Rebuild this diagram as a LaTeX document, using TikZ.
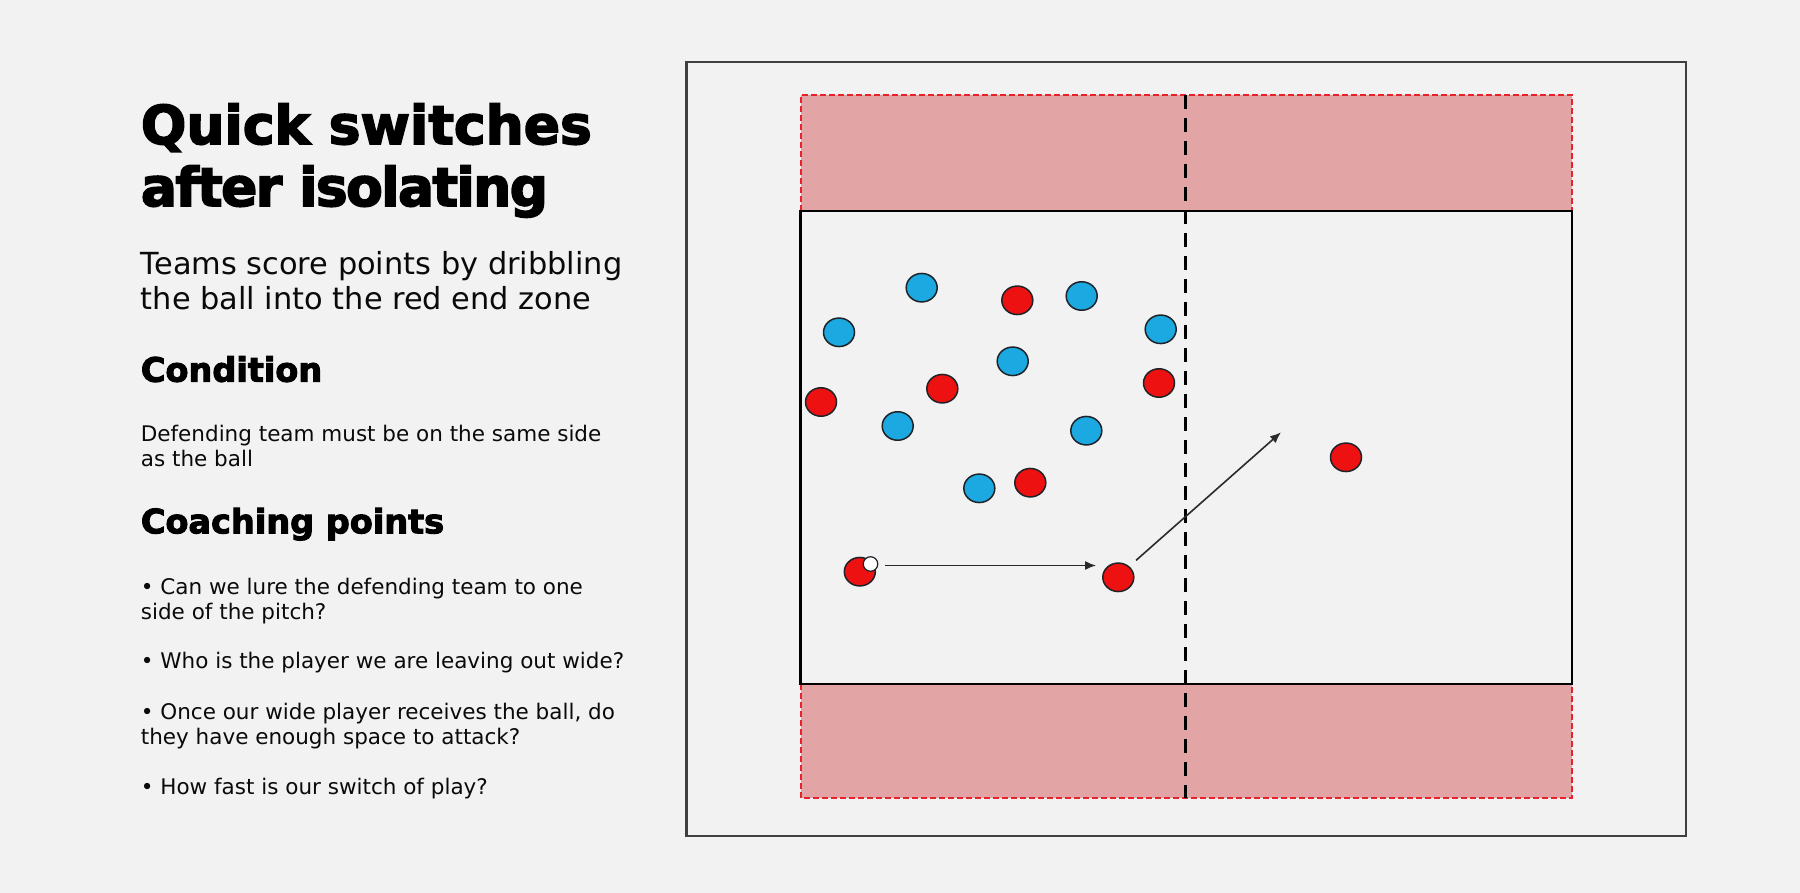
\documentclass[tikz,border=0pt]{standalone}
\usepackage{fontspec}
\setmainfont{DejaVu Sans}
\newfontfamily\headfont{DejaVu Sans}[UprightFont={* Bold}, UprightFeatures={FakeBold=3}]
\newfontfamily\headtight{DejaVu Sans}[UprightFont={* Bold}, UprightFeatures={FakeBold=3}, LetterSpace=-3]
\usetikzlibrary{shapes.geometric,arrows.meta}
\definecolor{bgcol}{HTML}{F2F2F2}
\definecolor{zonefill}{HTML}{E2A4A4}
\definecolor{zonered}{HTML}{E8222A}
\definecolor{pblue}{HTML}{1CA8E0}
\definecolor{pred}{HTML}{EE1111}
\definecolor{outl}{HTML}{1E2328}
\definecolor{framecol}{HTML}{404040}
\definecolor{txt}{HTML}{0A0A0A}
\definecolor{passcol}{HTML}{2A2A2A}
\tikzset{
  titletext/.style={anchor=base west, inner sep=0pt, text=black, font=\headfont\fontsize{53.5}{60}\selectfont},
  titletight/.style={anchor=base west, inner sep=0pt, text=black, font=\headtight\fontsize{53.5}{60}\selectfont},
  headtext/.style={anchor=base west, inner sep=0pt, text=black, font=\headfont\fontsize{33.5}{38}\selectfont},
  subtext/.style={anchor=base west, inner sep=0pt, text=txt, font=\fontsize{30.4}{34}\selectfont},
  bodytext/.style={anchor=base west, inner sep=0pt, text=txt, font=\fontsize{21.5}{24}\selectfont},
  player/.style={ellipse, minimum width=31pt, minimum height=28.5pt, inner sep=0pt, draw=outl, line width=1.5pt},
  blueplayer/.style={player, fill=pblue},
  redplayer/.style={player, fill=pred},
  ballnode/.style={circle, minimum size=14.5pt, inner sep=0pt, fill=white, draw=outl, line width=1.2pt},
  pass/.style={draw=passcol, line width=1.6pt, -{Latex[length=11pt,width=9pt]}},
  zoneline/.style={draw=zonered, line width=2pt, dash pattern=on 6pt off 3pt},
  pitchline/.style={draw=black, line width=2.7pt},
  centreline/.style={draw=black, line width=3pt, dash pattern=on 14pt off 9pt},
  framebox/.style={draw=framecol, line width=2.2pt}
}
\begin{document}
\begin{tikzpicture}[x=1pt,y=-1pt]
\fill[bgcol] (0,0) rectangle (1800,893);
\useasboundingbox (0,0) rectangle (1800,893);

% ---- left text column ----
\node[titletext] (title1) at (140.7,144) {Quick switches};
\node[titletight] (title2) at (140.7,206) {after isolating};
\node[subtext] (sub1) at (140.7,275) {Teams score points by dribbling};
\node[subtext] (sub2) at (140.7,309.3) {the ball into the red end zone};
\node[headtext] (cond) at (140.7,381.7) {Condition};
\node[bodytext] (cond1) at (140.7,441.7) {Defending team must be on the same side};
\node[bodytext] (cond2) at (140.7,466.7) {as the ball};
\node[headtext] (coach) at (140.7,533.3) {Coaching points};
\node[bodytext] (b1a) at (140.7,594) {• Can we lure the defending team to one};
\node[bodytext] (b1b) at (140.7,619) {side of the pitch?};
\node[bodytext] (b2) at (140.7,668.3) {• Who is the player we are leaving out wide?};
\node[bodytext] (b3a) at (140.7,719) {• Once our wide player receives the ball, do};
\node[bodytext] (b3b) at (140.7,744) {they have enough space to attack?};
\node[bodytext] (b4) at (140.7,794) {• How fast is our switch of play?};

% ---- pitch ----
\draw[framebox] (686.5,62) rectangle (1686,836);
\fill[zonefill] (801,95) rectangle (1572,211);
\fill[zonefill] (801,684) rectangle (1572,798);
\draw[zoneline] (801,211) -- (801,95) -- (1572,95) -- (1572,211);
\draw[zoneline] (801,684) -- (801,798) -- (1572,798) -- (1572,684);
\draw[pitchline] (800.5,211) rectangle (1572,684);
\draw[centreline] (1185,95) -- (1185,798);

% ---- players ----
\node[blueplayer] (b1) at (921.7,287.7) {};
\node[blueplayer] (b2) at (839,332.3) {};
\node[blueplayer] (b3) at (1081.7,296) {};
\node[blueplayer] (b4) at (1160.7,329.3) {};
\node[blueplayer] (b5) at (1012.7,361.3) {};
\node[blueplayer] (b6) at (897.7,426) {};
\node[blueplayer] (b7) at (1086.3,430.7) {};
\node[blueplayer] (b8) at (979.3,488.3) {};

\node[redplayer] (r1) at (1017.3,300.3) {};
\node[redplayer] (r2) at (942.3,388.7) {};
\node[redplayer] (r3) at (821,402) {};
\node[redplayer] (r4) at (1159,383) {};
\node[redplayer] (r5) at (1030.3,482.7) {};
\node[redplayer] (rball) at (859.8,571.7) {};
\node[ballnode] (ball) at (870.5,564) {};
\node[redplayer] (r6) at (1118.3,577.3) {};
\node[redplayer] (r7) at (1346,457.3) {};

% ---- movements ----
\coordinate (target) at (1281,432.3);
\draw[pass, shorten <=7pt, shorten >=6pt] ([yshift=-1.5pt]ball.east) -- ([yshift=-1.5pt]ball.east -| r6.west);
\draw[pass, shorten <=9pt] (r6.45) -- (target);
\end{tikzpicture}
\end{document}
